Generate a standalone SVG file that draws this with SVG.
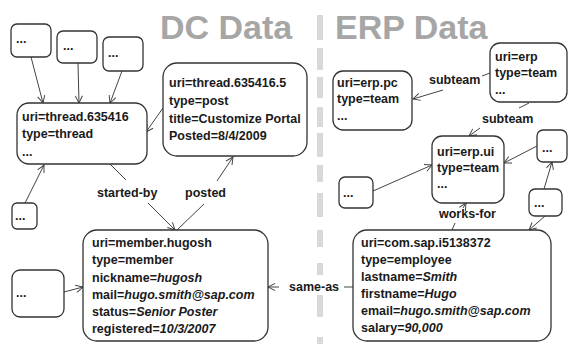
<svg xmlns="http://www.w3.org/2000/svg" width="568" height="344" viewBox="0 0 568 344">
  <style>
    .title { font-family: "Liberation Sans", Arial, sans-serif; font-size: 34px; font-weight: bold; fill: #a6a6a6; }
    .t { font-family: "Liberation Sans", Arial, sans-serif; font-size: 12.5px; font-weight: bold; fill: #1a1a1a; }
    .i { font-style: italic; }
    .box { fill: #ffffff; stroke: #333333; stroke-width: 1.3; }
    .edge { fill: none; stroke: #444444; stroke-width: 1; }
    .divider { fill: #d9d9d9; }
  </style>
  <defs>
    <marker id="arrow" viewBox="0 0 10 10" refX="9" refY="5" markerWidth="9" markerHeight="9" markerUnits="userSpaceOnUse" orient="auto">
      <path d="M1,1 L9,5 L1,9" fill="none" stroke="#444444" stroke-width="1.1"/>
    </marker>
  </defs>

  <rect width="568" height="344" fill="#ffffff"/>

  <!-- section divider -->
  <g id="divider" class="divider">
    <rect x="317" y="15" width="6" height="25"/>
    <rect x="317" y="48" width="6" height="22"/>
    <rect x="317" y="77" width="6" height="21"/>
    <rect x="317" y="107" width="6" height="20"/>
    <rect x="317" y="133" width="6" height="24"/>
    <rect x="317" y="165" width="6" height="17"/>
    <rect x="317" y="193" width="6" height="24"/>
    <rect x="317" y="230" width="6" height="17"/>
    <rect x="317" y="263" width="6" height="12"/>
    <rect x="317" y="295" width="6" height="22"/>
    <rect x="317" y="337" width="6" height="7"/>
  </g>

  <!-- section titles -->
  <text class="title" x="160" y="39">DC Data</text>
  <text class="title" x="335" y="39">ERP Data</text>

  <!-- connectors -->
  <g id="connectors" class="edge">
    <path d="M31,57 L43,103" marker-end="url(#arrow)"/>
    <path d="M78,63 L79,103" marker-end="url(#arrow)"/>
    <path d="M122,71 L110,103" marker-end="url(#arrow)"/>
    <path d="M163,108 L146,132" marker-end="url(#arrow)"/>
    <path d="M25,203 L44,165" marker-end="url(#arrow)"/>
    <!-- started-by -->
    <path d="M110,164 L126,180"/>
    <path d="M148,203 L175,230" marker-end="url(#arrow)"/>
    <!-- posted -->
    <path d="M177,230 L204,204"/>
    <path d="M217,181 L233,157" marker-end="url(#arrow)"/>
    <path d="M64,292 L83,287" marker-end="url(#arrow)"/>
    <!-- same-as -->
    <path d="M353,287 L344,287"/>
    <path d="M279,287 L268,287" marker-end="url(#arrow)"/>
    <!-- subteam to erp.pc -->
    <path d="M490,73 L482,76"/>
    <path d="M443,90 L413,99" marker-end="url(#arrow)"/>
    <!-- subteam to erp.ui -->
    <path d="M529,103 L519,108"/>
    <path d="M480,128 L469,136" marker-end="url(#arrow)"/>
    <path d="M537,146 L504,163" marker-end="url(#arrow)"/>
    <path d="M544,189 L552,162" marker-end="url(#arrow)"/>
    <path d="M545,216 L529,230" marker-end="url(#arrow)"/>
    <path d="M373,191 L432,165" marker-end="url(#arrow)"/>
    <!-- works-for -->
    <path d="M452,230 L455,223"/>
    <path d="M463,208 L466,203" marker-end="url(#arrow)"/>
  </g>

  <!-- connector labels -->
  <g id="labels">
    <text class="t" x="97" y="197">started-by</text>
    <text class="t" x="185" y="197">posted</text>
    <rect x="286" y="277" width="52" height="18" fill="#ffffff"/>
    <text class="t" x="289" y="291">same-as</text>
    <text class="t" x="429" y="84">subteam</text>
    <text class="t" x="482" y="123">subteam</text>
    <text class="t" x="439" y="218">works-for</text>
  </g>

  <!-- DC nodes -->
  <g id="dc-misc-1">
    <rect class="box" x="11" y="24" width="40" height="33" rx="6"/>
    <text class="t" x="16" y="43">...</text>
  </g>
  <g id="dc-misc-2">
    <rect class="box" x="57" y="31" width="40" height="32" rx="6"/>
    <text class="t" x="63" y="50">...</text>
  </g>
  <g id="dc-misc-3">
    <rect class="box" x="103" y="37" width="40" height="34" rx="6"/>
    <text class="t" x="108" y="57">...</text>
  </g>
  <g id="thread">
    <rect class="box" x="17" y="103" width="130" height="61" rx="12"/>
    <text class="t" x="22" y="121">uri=thread.635416</text>
    <text class="t" x="22" y="138">type=thread</text>
    <text class="t" x="22" y="156">...</text>
  </g>
  <g id="post">
    <rect class="box" x="163" y="63" width="144" height="93" rx="14"/>
    <text class="t" x="169" y="87">uri=thread.635416.5</text>
    <text class="t" x="169" y="105">type=post</text>
    <text class="t" x="169" y="123">title=Customize Portal</text>
    <text class="t" x="169" y="140">Posted=8/4/2009</text>
  </g>
  <g id="dc-misc-4">
    <rect class="box" x="12" y="203" width="25" height="26" rx="5"/>
    <text class="t" x="15" y="220">...</text>
  </g>
  <g id="dc-misc-5">
    <rect class="box" x="12" y="270" width="52" height="47" rx="8"/>
    <text class="t" x="16" y="297">...</text>
  </g>
  <g id="member">
    <rect class="box" x="83" y="230" width="185" height="111" rx="14"/>
    <text class="t" x="92" y="247">uri=member.hugosh</text>
    <text class="t" x="92" y="264">type=member</text>
    <text class="t" x="92" y="282">nickname=<tspan class="i">hugosh</tspan></text>
    <text class="t" x="92" y="299">mail=<tspan class="i">hugo.smith@sap.com</tspan></text>
    <text class="t" x="92" y="316">status=<tspan class="i">Senior Poster</tspan></text>
    <text class="t" x="92" y="333">registered=<tspan class="i">10/3/2007</tspan></text>
  </g>

  <!-- ERP nodes -->
  <g id="erp-pc">
    <rect class="box" x="333" y="71" width="79" height="59" rx="10"/>
    <text class="t" x="337" y="87">uri=erp.pc</text>
    <text class="t" x="337" y="103">type=team</text>
    <text class="t" x="337" y="120">...</text>
  </g>
  <g id="erp">
    <rect class="box" x="490" y="43" width="77" height="59" rx="10"/>
    <text class="t" x="495" y="61">uri=erp</text>
    <text class="t" x="495" y="77">type=team</text>
    <text class="t" x="495" y="94">...</text>
  </g>
  <g id="erp-ui">
    <rect class="box" x="432" y="136" width="72" height="67" rx="10"/>
    <text class="t" x="437" y="156">uri=erp.ui</text>
    <text class="t" x="437" y="172">type=team</text>
    <text class="t" x="437" y="188">...</text>
  </g>
  <g id="erp-misc-1">
    <rect class="box" x="537" y="130" width="30" height="32" rx="6"/>
    <text class="t" x="542" y="152">...</text>
  </g>
  <g id="erp-misc-2">
    <rect class="box" x="529" y="189" width="33" height="27" rx="6"/>
    <text class="t" x="534" y="207">...</text>
  </g>
  <g id="erp-misc-3">
    <rect class="box" x="339" y="177" width="34" height="31" rx="6"/>
    <text class="t" x="343" y="197">...</text>
  </g>
  <g id="employee">
    <rect class="box" x="353" y="230" width="198" height="111" rx="14"/>
    <text class="t" x="361" y="247">uri=com.sap.i5138372</text>
    <text class="t" x="361" y="264">type=employee</text>
    <text class="t" x="361" y="281">lastname=<tspan class="i">Smith</tspan></text>
    <text class="t" x="361" y="298">firstname=<tspan class="i">Hugo</tspan></text>
    <text class="t" x="361" y="315">email=<tspan class="i">hugo.smith@sap.com</tspan></text>
    <text class="t" x="361" y="332">salary=<tspan class="i">90,000</tspan></text>
  </g>
</svg>
